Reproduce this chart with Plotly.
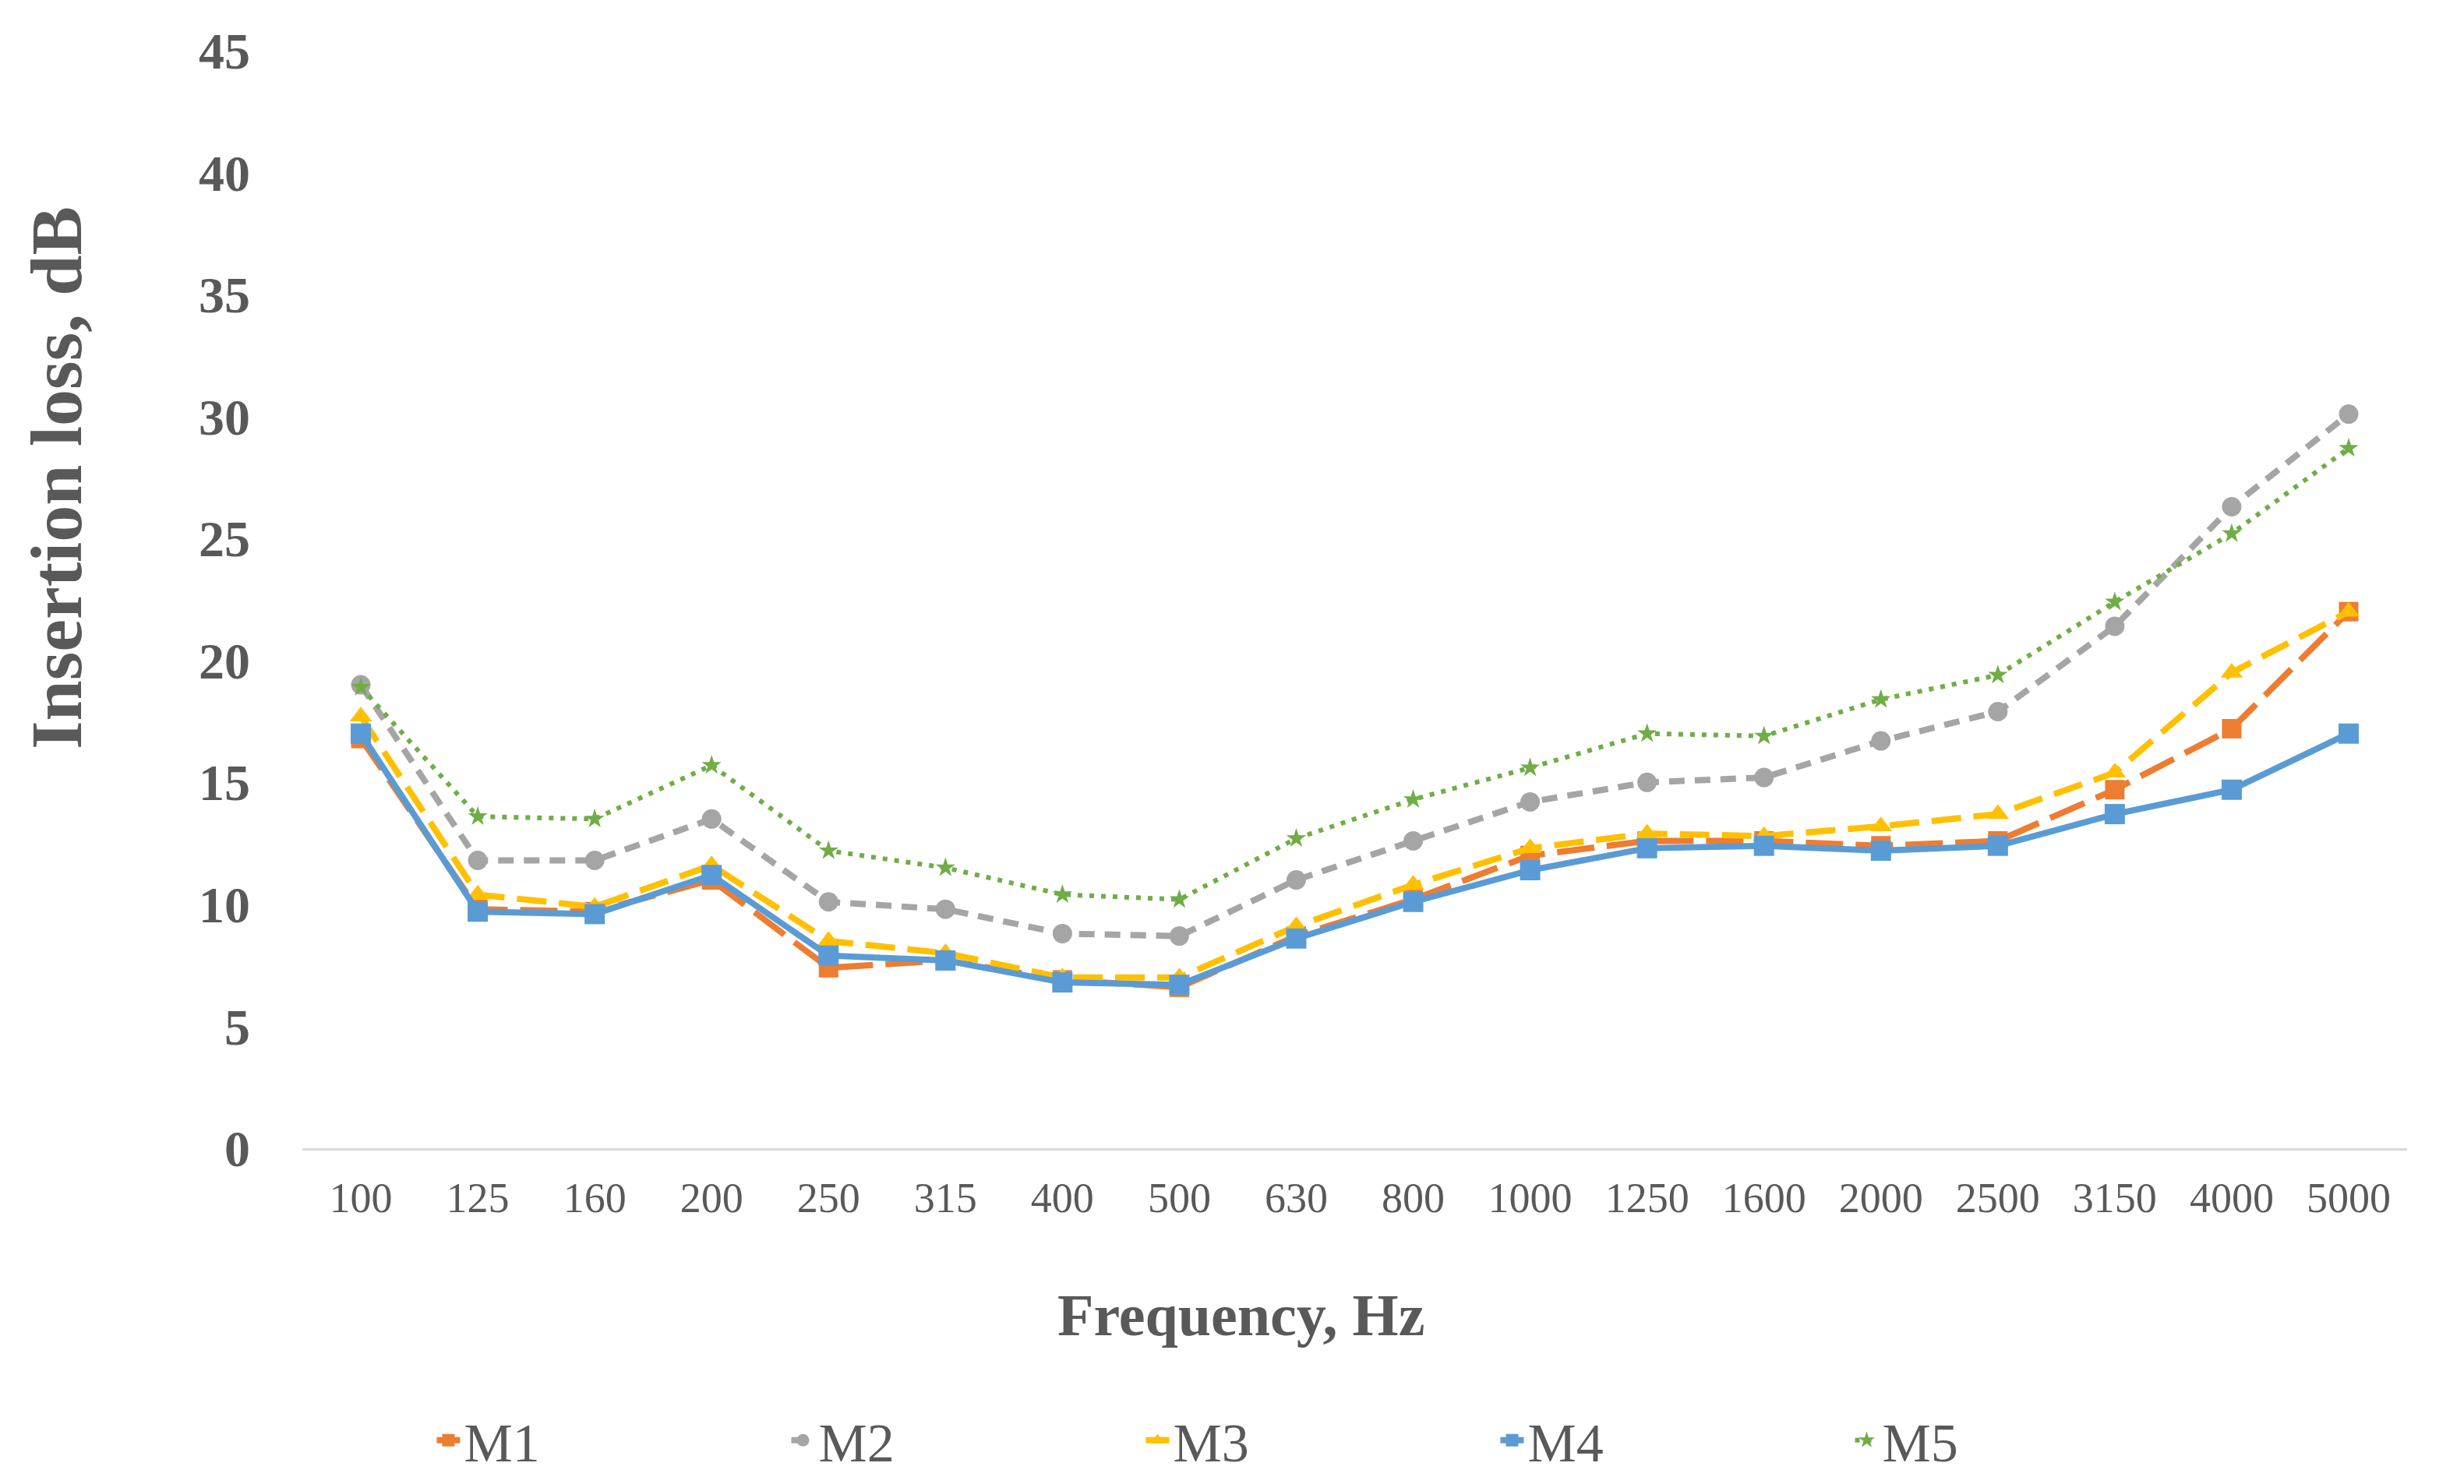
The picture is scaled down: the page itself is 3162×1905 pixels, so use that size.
import plotly.graph_objects as go

categories = ["100", "125", "160", "200", "250", "315", "400", "500", "630", "800",
              "1000", "1250", "1600", "2000", "2500", "3150", "4000", "5000"]

m1 = [16.8, 9.8, 9.7, 11.0, 7.4, 7.7, 6.9, 6.6, 8.7, 10.2, 12.0, 12.6, 12.6, 12.4, 12.6, 14.7, 17.2, 22.0]
m2 = [19.0, 11.8, 11.8, 13.5, 10.1, 9.8, 8.8, 8.7, 11.0, 12.6, 14.2, 15.0, 15.2, 16.7, 17.9, 21.4, 26.3, 30.1]
m3 = [17.7, 10.4, 9.9, 11.6, 8.5, 8.0, 7.0, 7.0, 9.1, 10.8, 12.3, 12.9, 12.8, 13.2, 13.7, 15.4, 19.5, 22.0]
m4 = [17.0, 9.7, 9.6, 11.2, 7.9, 7.7, 6.8, 6.7, 8.6, 10.1, 11.4, 12.3, 12.4, 12.2, 12.4, 13.7, 14.7, 17.0]
m5 = [18.9, 13.6, 13.5, 15.7, 12.2, 11.5, 10.4, 10.2, 12.7, 14.3, 15.6, 17.0, 16.9, 18.4, 19.4, 22.4, 25.2, 28.7]

series_names = ["M1", "M2", "M3", "M4", "M5"]
y_ticks = [0, 5, 10, 15, 20, 25, 30, 35, 40, 45]

styles = {
    "M1": dict(color="#ED7D31", dash="48px,16px", symbol="square", msize=25, width=8),
    "M2": dict(color="#A5A5A5", dash="20px,13px", symbol="circle", msize=25, width=8),
    "M3": dict(color="#FFC000", dash="38px,16px", symbol="triangle-up", msize=25, width=8),
    "M4": dict(color="#5B9BD5", dash="solid", symbol="square", msize=26, width=8),
    "M5": dict(color="#70AD47", dash="6px,9px", symbol="star", msize=19, width=6),
}

data = {"M1": m1, "M2": m2, "M3": m3, "M4": m4, "M5": m5}

FONT = "Liberation Serif"
GREY = "#595959"

fig = go.Figure()
for name in series_names:
    s = styles[name]
    fig.add_trace(go.Scatter(
        x=categories, y=data[name], name=name, mode="lines+markers",
        line=dict(color=s["color"], width=s["width"], dash=s["dash"]),
        marker=dict(symbol=s["symbol"], size=s["msize"], color=s["color"]),
    ))

fig.update_layout(
    width=3162, height=1905,
    paper_bgcolor="white", plot_bgcolor="white",
    margin=dict(l=380, r=81, t=57, b=422),
    showlegend=True,
    legend=dict(
        orientation="h", x=0.062, xanchor="left", y=-0.266, yanchor="middle",
        font=dict(family=FONT, size=70, color=GREY),
        entrywidth=410, entrywidthmode="pixels",
        itemwidth=30,
    ),
    xaxis=dict(
        type="category", range=[-0.5, 17.5], showgrid=False, zeroline=False,
        showline=True, linecolor="#D9D9D9", linewidth=3,
        ticks="", tickfont=dict(family=FONT, size=54, color=GREY),
        ticklabelstandoff=14,
    ),
    yaxis=dict(
        range=[0, 45], tickvals=y_ticks, showgrid=False, zeroline=False,
        showline=False, ticks="",
        tickfont=dict(family=FONT, size=66, color=GREY, weight="bold"),
        ticklabelstandoff=66,
    ),
    annotations=[
        dict(text="<b>Frequency, Hz</b>", xref="paper", yref="paper",
             x=0.4458, y=-0.152, xanchor="center", yanchor="middle",
             showarrow=False, font=dict(family=FONT, size=76, color=GREY)),
        dict(text="<b>Insertion loss, dB</b>", xref="paper", yref="paper",
             x=-0.117, y=0.611, xanchor="center", yanchor="middle", textangle=-90,
             showarrow=False, font=dict(family=FONT, size=94, color=GREY)),
    ],
)

fig.write_html("out.html")
